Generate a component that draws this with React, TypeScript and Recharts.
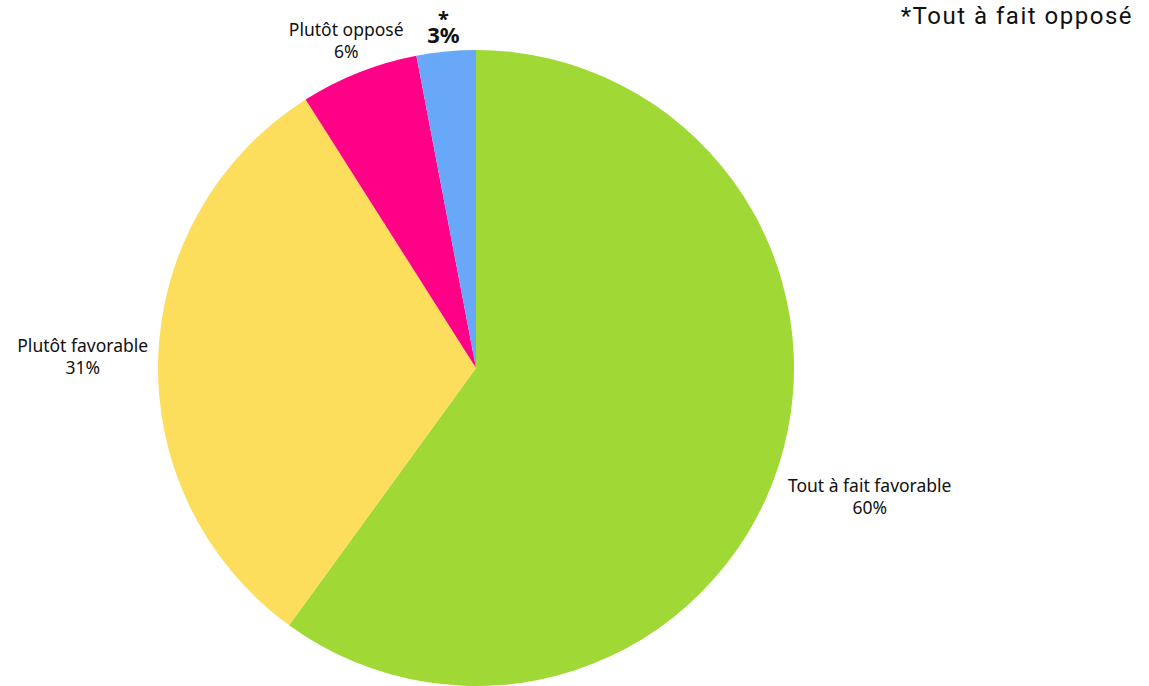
import { PieChart, Pie, Cell } from "recharts";

const categories = ["Tout à fait favorable", "Plutôt favorable", "Plutôt opposé", "*"];
const shares = [60, 31, 6, 3];
const colors = ["#A0D936", "#FDDE5C", "#FF0087", "#69A8F9"];

const data = categories.map((name, i) => ({ name, value: shares[i] }));

const RAD = Math.PI / 180;

const renderLabel = (props: any) => {
  const { cx, cy, midAngle, outerRadius, index } = props;
  const name = categories[index];
  const pct = `${shares[index]}%`;
  const small = name === "*";
  const w = small ? 30 : name.length * 8.9;
  const h = small ? 44 : 20;
  const cos = Math.cos(-midAngle * RAD);
  const sin = Math.sin(-midAngle * RAD);
  const r = outerRadius + 4 + Math.abs(cos) * (w / 2) + Math.abs(sin) * (h / 2);
  const x = cx + r * cos;
  const y = cy + r * sin;

  if (small) {
    return (
      <g>
        <text x={x} y={y + 2} textAnchor="middle" fill="#111" fontSize={20} fontWeight={700} fontFamily="'Noto Sans', sans-serif">
          *
        </text>
        <text x={x} y={y + 19} textAnchor="middle" fill="#111" fontSize={22} fontWeight={700} fontFamily="'Noto Sans', sans-serif">
          {pct}
        </text>
      </g>
    );
  }
  return (
    <text x={x} y={y} textAnchor="middle" fill="#111" fontSize={17.5} fontFamily="'Noto Sans', sans-serif">
      <tspan x={x} dy={-4}>{name}</tspan>
      <tspan x={x} dy={22}>{pct}</tspan>
    </text>
  );
};

export default function App() {
  return (
    <div style={{ position: "absolute", left: 0, top: 0, width: 1149, height: 686, background: "#fff" }}>
      <PieChart width={1149} height={686} margin={{ top: 0, right: 0, bottom: 0, left: 0 }}>
        <Pie
          data={data}
          dataKey="value"
          cx={476}
          cy={368}
          outerRadius={318}
          startAngle={90}
          endAngle={-270}
          stroke="none"
          labelLine={false}
          label={renderLabel}
          isAnimationActive={false}
        >
          {data.map((d, i) => (
            <Cell key={d.name} fill={colors[i]} />
          ))}
        </Pie>
      </PieChart>
      <div
        style={{
          position: "absolute",
          right: 16,
          top: 2,
          fontFamily: "Roboto, sans-serif",
          fontSize: 24,
          letterSpacing: 1.5,
          color: "#111",
        }}
      >
        *Tout à fait opposé
      </div>
    </div>
  );
}
